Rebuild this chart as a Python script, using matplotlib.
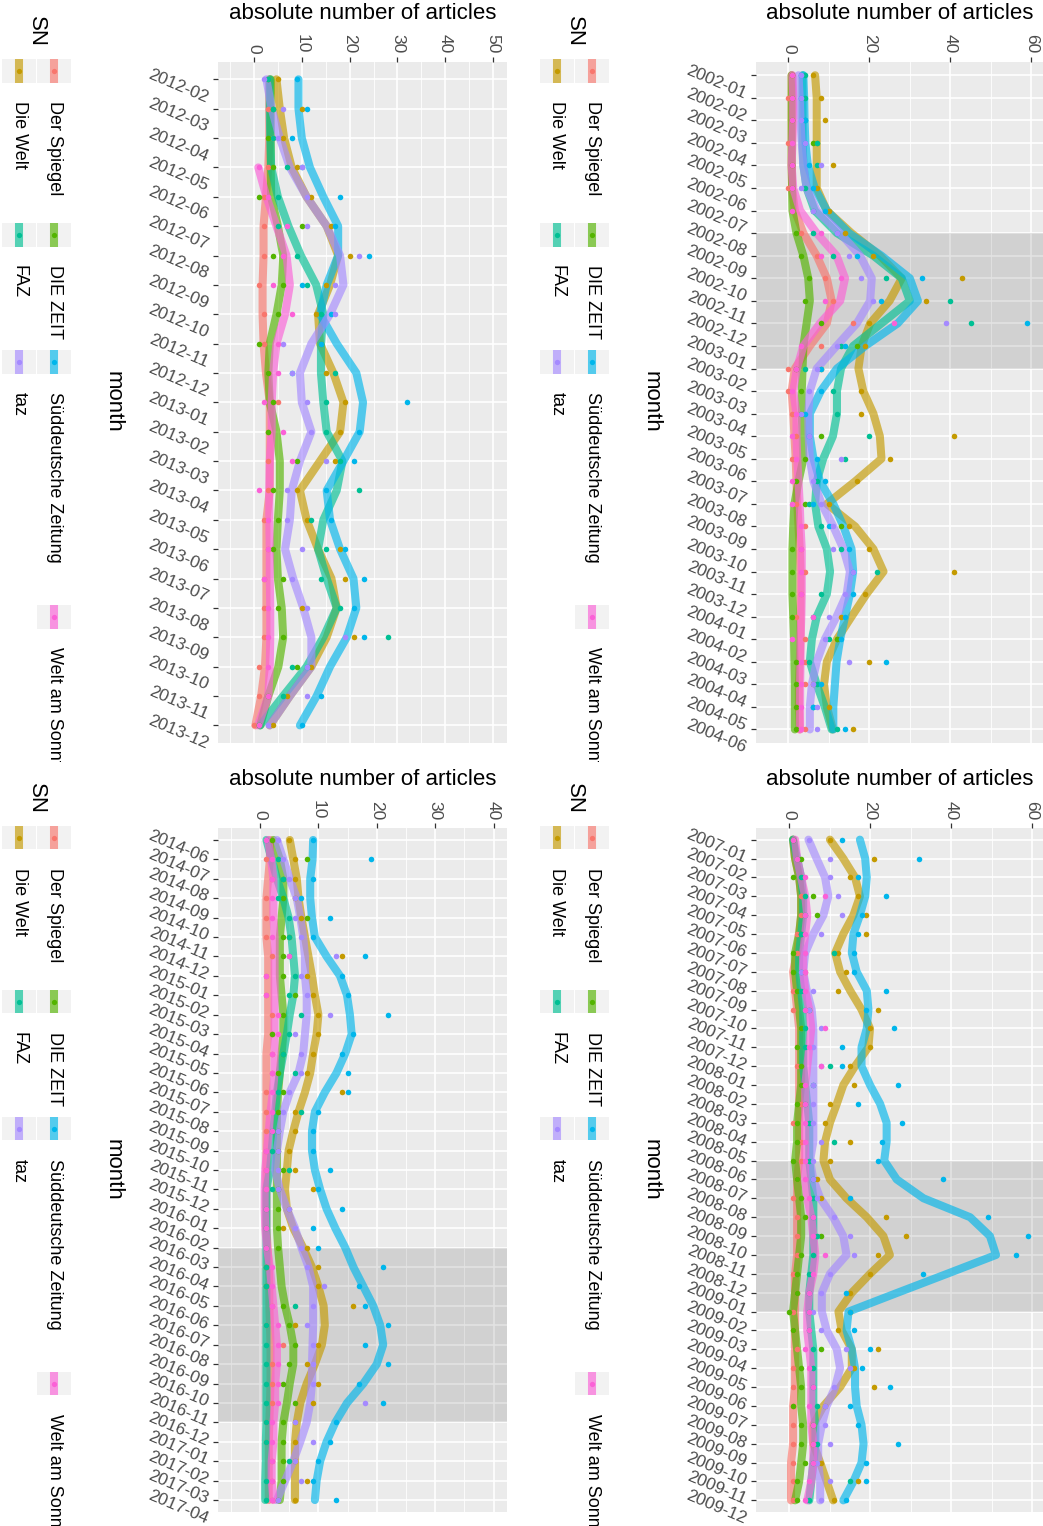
import numpy as np
import pandas as pd
import matplotlib
matplotlib.use("Agg")
import matplotlib.pyplot as plt
from matplotlib.transforms import ScaledTranslation, Bbox, TransformedBbox
from matplotlib.patches import Rectangle
from matplotlib.lines import Line2D

plt.rcParams["font.family"] = ["Liberation Sans", "DejaVu Sans"]

papers = ["Der Spiegel", "Die Welt", "DIE ZEIT", "FAZ",
          "Süddeutsche Zeitung", "taz", "Welt am Sonntag"]
colors = ["#F8766D", "#C49A00", "#53B400", "#00C094",
          "#00B6EB", "#A58AFF", "#FB61D7"]
nan = np.nan

# ---- 2002-01 .. 2004-06 (order of papers) ----
lines_2002 = [
    [0.8, 0.8, 0.8, 0.8, 0.8, 0.9, 1.6, 3.7, 7, 9.5, 10.7, 9.5, 5.3, 1.6, 0.8, 1.2, 1.5, 1.8, 2, 2.2, 2.5, 2.8, 3, 3, 3, 3, 2.8, 2.6, 2.6, 2.8],
    [6.6, 7, 7, 7, 7, 7, 9.5, 15.6, 22.6, 28, 25, 20.2, 18.1, 17.3, 18.5, 21, 22.6, 23, 16.5, 9.5, 16.5, 21, 23.5, 19.3, 15.6, 12, 9.5, 8.8, 9.5, 11],
    [0.8, 0.8, 0.8, 0.8, 0.8, 0.9, 1, 2, 3.7, 4.9, 5.3, 4.5, 3.7, 3.5, 3.3, 3.3, 3.5, 3.7, 2.5, 1.5, 1.2, 1, 1, 1, 1.2, 1.4, 1.5, 1.6, 1.6, 1.6],
    [3.5, 3.5, 3.5, 3.5, 3.7, 4.5, 6.5, 12, 21, 28, 30, 23, 16, 13, 12, 12, 11, 8.6, 7, 6.6, 7.4, 9.5, 10.3, 9.5, 7, 5.8, 5.3, 7, 9, 10.7],
    [3.7, 3.9, 4, 4.2, 4.8, 6.5, 9.5, 15, 23, 30, 32, 27, 19, 12, 8, 5.3, 5.3, 6.2, 7.8, 11.1, 13.6, 15.6, 16, 15.2, 14, 12.8, 11.9, 11.5, 11.1, 11.1],
    [2.5, 2.8, 3, 3.3, 3.7, 4.5, 7, 12.8, 17.7, 20.6, 20.2, 16.9, 11.9, 7, 5.3, 4.9, 5, 5.3, 6.2, 8.2, 11.1, 13.6, 15.2, 14.4, 11.9, 9, 7, 5.8, 5.3, 5.3],
    [1, 1.2, 1.2, 1, 0.8, 1.2, 2.9, 7, 11.9, 14, 12.8, 7.8, 3.7, 2.1, 1.2, 2, 2, 2.2, 2.5, 2.8, 3, 3.3, 3.3, 3.3, 3.2, 3, 3, 2.9, 2.9, 2.9],
]
points_2002 = [
    [1, 0, 1, 0, 1, 0, 1, 3, 7, 9, 11, 16, 8, 0, 0, 1, 2, 1, 2, 2, 4, 3, 4, 3, 2, 4, 4, 4, 2, 4],
    [6, 8, 9, 7, 11, 7, 10, 14, 21, 43, 34, 20, 19, 8, 18, 18, 41, 25, 17, 10, 15, 20, 41, 19, 13, 12, 20, 6, 10, 16],
    [1, 1, 1, 6, 1, 1, 1, 2, 3, 5, 4, 8, 17, 2, 3, 3, 8, 4, 2, 4, 13, 1, 1, 1, 1, 12, 2, 2, 2, 2],
    [4, 4, 4, 7, 7, 4, 6, 6, 11, 24, 40, 45, 13, 4, 11, 12, 20, 14, 7, 5, 8, 13, 22, 8, 6, 10, 5, 7, 6, 12],
    [3, 3, 4, 4, 5, 6, 9, 12, 17, 33, 23, 59, 14, 8, 8, 4, 5, 7, 9, 6, 10, 15, 16, 16, 14, 13, 24, 8, 6, 14],
    [3, 3, 3, 4, 8, 3, 6, 12, 15, 18, 21, 39, 12, 7, 5, 3, 5, 13, 6, 8, 11, 11, 16, 14, 10, 9, 15, 6, 7, 7],
    [1, 1, 1, 1, 1, 1, 1, 8, 8, 13, 9, 26, 3, 2, 1, 2, 1, 2, 1, 1, 3, 3, 3, 3, 6, 1, 3, 3, 3, 3],
]

# ---- 2007-01 .. 2009-12 ----
lines_2007 = [
    [1, 1.5, 2.5, 3, 3, 2.5, 2, 1, 1.5, 2, 2.5, 2.5, 2.5, 2.5, 2.5, 2.5, 2.5, 2.5, 2, 2, 2, 2, 2, 1.5, 1.5, 1.5, 1.5, 1.5, 1.5, 1.5, 1, 1, 1, 0.5, 0.5, 0.5],
    [10.1, 13.4, 16.3, 17.5, 15.9, 13.4, 11.4, 12.6, 15.1, 17.9, 20, 19.6, 16.3, 13.4, 11.8, 10.1, 8.9, 8.5, 10.1, 14.2, 19.2, 23.3, 24.9, 20, 15.5, 12.2, 13, 15.5, 15.5, 12.6, 8.5, 6, 6, 7.7, 9.3, 10.9],
    [1, 1.5, 2.5, 3, 3, 2.5, 1.5, 1.5, 2, 2.5, 3, 3, 3, 3, 2.5, 2, 2, 1.5, 2, 2.5, 3, 3, 2.5, 2, 1.5, 1, 1.5, 2, 2.5, 3, 3, 3.5, 3.5, 3, 2.5, 1.5],
    [1, 2, 3, 3.5, 3.5, 3, 2.5, 2.5, 3, 3.5, 3.5, 3.5, 3.5, 4, 4.5, 5, 5, 5, 5.5, 6, 6, 6, 6, 5.5, 5, 5, 5.5, 6, 6, 6, 6, 6.5, 6.5, 6, 5.5, 5],
    [17.5, 18.8, 19.2, 18.8, 17.5, 15.9, 15.5, 16.7, 19.2, 19.6, 19.2, 17.9, 17.9, 20, 22.5, 24.1, 24.1, 23.5, 26.6, 33.2, 44.7, 49.6, 51.1, 39, 26.8, 14.7, 14.2, 15.5, 16.3, 16.3, 16.7, 17.9, 18.4, 17.9, 15.9, 13.4],
    [4.8, 6.8, 8.9, 9.7, 8.5, 6, 4, 3.5, 4.4, 5.6, 6, 6, 6, 6, 6, 6, 6, 5.2, 6, 7.7, 10.9, 13.4, 14.2, 10.1, 8.1, 8.1, 9.3, 11.8, 12.6, 11.4, 9.3, 8.1, 7.2, 7.2, 7.7, 7.7],
    [1.5, 2, 3, 4, 4.5, 4, 3.5, 3.5, 4, 5, 5.5, 5, 4.5, 4, 4, 4, 4, 4, 4, 4.5, 5.5, 6, 6.5, 6, 5, 4.5, 4.5, 5, 5.5, 5.5, 5.5, 5.5, 6, 6, 5.5, 4.5],
]
points_2007 = [
    [1, 2, 3, 3, 3, 2, 2, 4, 1, 1, 3, 2, 2, 3, 3, 1, 3, 3, 2, 1, 2, 2, 2, 1, 2, 1, 1, 2, 1, 1, 1, 1, 1, 1, 1, 1],
    [10, 21, 15, 17, 19, 19, 12, 14, 12, 22, 20, 20, 15, 16, 10, 9, 15, 10, 7, 8, 24, 29, 22, 20, 15, 15, 12, 22, 16, 21, 9, 6, 6, 8, 17, 11],
    [1, 3, 1, 6, 7, 3, 1, 1, 2, 5, 3, 2, 3, 3, 2, 2, 2, 1, 2, 3, 4, 8, 3, 2, 2, 0, 1, 8, 3, 3, 1, 3, 3, 4, 2, 2],
    [1, 2, 3, 4, 4, 3, 11, 3, 3, 4, 4, 4, 10, 6, 4, 5, 11, 5, 6, 6, 6, 7, 6, 5, 5, 5, 5, 6, 6, 6, 7, 6, 7, 6, 15, 5],
    [13, 32, 17, 24, 18, 17, 16, 16, 24, 19, 26, 13, 13, 27, 17, 28, 23, 22, 38, 15, 49, 59, 56, 33, 14, 15, 16, 20, 18, 25, 15, 17, 27, 19, 19, 14],
    [5, 10, 10, 12, 13, 8, 4, 3, 6, 5, 8, 6, 8, 6, 6, 6, 8, 6, 6, 7, 11, 15, 16, 10, 8, 6, 8, 14, 15, 11, 9, 9, 10, 7, 10, 8],
    [1, 2, 4, 9, 4, 4, 4, 4, 4, 4, 9, 5, 8, 4, 4, 4, 4, 4, 4, 5, 6, 6, 9, 6, 5, 5, 5, 4, 5, 6, 5, 6, 6, 6, 5, 4],
]

# ---- 2012-02 .. 2013-12 ----
lines_2012 = [
    [3.2, 3.2, 3.2, 3, 2.5, 2, 2, 1.8, 1.8, 2, 2.5, 3.3, 3.3, 3.3, 3.3, 2.6, 2.6, 2.6, 2.6, 2.6, 2.3, 1.5, 0.3],
    [4.7, 5.4, 6.3, 7.9, 11, 15.2, 17.6, 15.9, 13.4, 13.8, 16.6, 18.7, 18, 13.8, 9.6, 11, 13.4, 16.2, 17.3, 15.2, 12, 7.5, 3.3],
    [3.5, 3.5, 3.5, 3.5, 3.6, 5, 6.1, 5.8, 4.7, 3.3, 3, 3.3, 4.7, 5.4, 5.4, 5, 4.7, 5, 5.8, 6.1, 5.1, 3, 1.3],
    [3.3, 3.3, 3.4, 3.6, 5, 7.2, 9.8, 13, 14.5, 14, 14, 14.5, 15.2, 18.5, 17.3, 14.5, 13.4, 15.2, 17.3, 14.5, 11, 6.1, 1.3],
    [9.3, 9.3, 10, 11.7, 14.5, 17.6, 17.6, 15.2, 13.8, 17.3, 21.4, 22.8, 22.1, 18.7, 15.2, 15.9, 18, 20.8, 21.4, 19.4, 15.9, 13.1, 9.6],
    [2.6, 3.7, 5.4, 7.5, 11, 15.2, 18, 18.7, 15.9, 12, 9.6, 10, 12, 9.6, 7.9, 7.5, 6.5, 8.2, 10.3, 12, 12, 7.5, 3.3],
    [nan, nan, nan, 0.9, 2.6, 4.7, 6.8, 7.5, 6.5, 4.7, 4, 3.7, 3.7, 3.3, 3.2, 3.2, 3.3, 3.3, 3.4, 3.4, 3.3, 3, 0.9],
]
points_2012 = [
    [3, 3, 4, 3, 2, 2, 2, 1, 2, 2, 3, 5, 3, 3, 3, 2, 3, 2, 2, 2, 1, 1, 0],
    [5, 10, 6, 9, 12, 16, 20, 15, 13, 14, 15, 19, 18, 17, 9, 11, 18, 19, 10, 21, 12, 7, 4],
    [3, 4, 3, 4, 1, 10, 4, 6, 5, 1, 3, 4, 3, 9, 4, 5, 4, 6, 5, 6, 9, 3, 1],
    [3, 4, 4, 7, 5, 5, 9, 11, 14, 14, 17, 15, 15, 18, 22, 12, 15, 14, 18, 28, 8, 6, 1],
    [9, 11, 8, 10, 18, 17, 24, 10, 16, 14, 8, 32, 22, 21, 15, 16, 19, 23, 21, 23, 11, 14, 10],
    [2, 6, 5, 10, 11, 11, 22, 17, 17, 6, 8, 11, 12, 15, 7, 7, 10, 8, 11, 19, 11, 11, 3],
    [nan, nan, nan, 1, 3, 7, 6, 4, 8, 5, 5, 2, 6, 8, 1, 3, 3, 2, 3, 3, 3, 3, 1],
]

# ---- 2014-06 .. 2017-04 ----
lines_2014 = [
    [1.7, 1.7, 1.4, 1.1, 1.1, 1.1, 1.4, 1.4, 1.4, 1.4, 1.4, 1.1, 1.1, 1.1, 1.1, 1.1, 1.1, 1.1, 1.1, 1.1, 1.1, 1.3, 1.5, 1.6, 1.6, 1.7, 1.8, 1.8, 1.8, 1.7, 1.6, 1.5, 1.5, 1.5, 1.5],
    [5.1, 5.7, 6.3, 6.6, 7.1, 7.7, 8.3, 8.9, 9.4, 10, 9.7, 9.1, 8.6, 7.7, 6.6, 5.7, 4.9, 4.6, 4.3, 4.6, 5.7, 7.4, 8.9, 10, 10.9, 11.1, 10.6, 9.4, 8, 6.9, 6.3, 6, 6, 6, 6],
    [2.3, 3.4, 4, 4, 3.7, 3.4, 3.4, 3.4, 3.7, 4, 4, 3.7, 3.4, 3.1, 2.9, 2.9, 2.9, 2.9, 2.9, 2.9, 2.9, 3.1, 3.4, 3.7, 4.3, 5.1, 5.7, 5.7, 5.1, 4.6, 4, 3.7, 3.7, 3.7, 3.4],
    [1.1, 2, 2.9, 4, 4.9, 5.4, 5.7, 6, 5.7, 5.1, 4.6, 4, 3.4, 2.9, 2.6, 2.3, 2, 1.7, 1.1, 1.1, 1.1, 1.1, 1.1, 1.1, 1.1, 1.1, 1.1, 1.1, 1.1, 1.1, 1.1, 1, 1, 0.9, 0.9],
    [9.1, 9, 8.6, 8.6, 8.9, 9.4, 11.4, 13.7, 14.9, 15.4, 15.7, 14.6, 13.1, 11.1, 9.4, 8.9, 8.9, 9.4, 10.3, 11.4, 12.9, 14.6, 16, 17.7, 19.4, 20.6, 21.1, 20, 17.7, 14.9, 12.9, 11.4, 10.3, 9.7, 9.4],
    [2.9, 4, 5.1, 6.3, 6.9, 7.4, 7.7, 7.7, 8, 8, 7.7, 7.4, 6.6, 5.1, 4, 3.4, 2.9, 2.6, 3.4, 4.6, 6, 7.1, 8.3, 9.1, 9.1, 9.1, 9, 8.9, 8.9, 8.6, 8, 6.9, 5.7, 4.3, 2.9],
    [1.4, 1.9, 2.3, 2.3, 2.3, 2.5, 2.5, 2.5, 2.5, 2.5, 2.5, 2.5, 2.5, 2.2, 1.8, 1.5, 1.2, 0.9, 0.8, 0.8, 0.9, 1.2, 1.7, 2, 2.3, 2.6, 2.9, 2.9, 2.6, 2.6, 2.3, 2.3, 2, 2, 2.3],
]
points_2014 = [
    [2, 1, 2, 1, 1, 1, 2, 1, 1, 2, 2, 2, 2, 1, 1, 1, 1, 1, 1, 1, 1, 1, 1, 1, 2, 1, 4, 2, 2, 2, 1, 1, 2, 2, 2],
    [5, 6, 6, 6, 7, 5, 14, 8, 9, 10, 10, 9, 8, 14, 6, 6, 5, 6, 9, 5, 4, 8, 10, 10, 16, 6, 10, 8, 10, 9, 6, 6, 6, 8, 6],
    [2, 8, 4, 4, 8, 4, 4, 4, 6, 4, 2, 4, 3, 4, 3, 3, 3, 4, 3, 3, 3, 3, 1, 1, 4, 5, 6, 5, 4, 6, 4, 4, 4, 4, 3],
    [1, 3, 4, 3, 5, 5, 5, 6, 5, 7, 5, 4, 6, 3, 7, 2, 2, 5, 2, 1, 1, 1, 1, 1, 6, 1, 1, 1, 1, 1, 1, 1, 5, 1, 1],
    [9, 19, 9, 7, 12, 9, 18, 14, 15, 22, 16, 14, 15, 15, 10, 9, 9, 12, 10, 14, 9, 10, 21, 17, 18, 22, 18, 22, 17, 21, 13, 12, 10, 9, 13],
    [3, 4, 5, 6, 6, 7, 13, 7, 8, 12, 6, 7, 7, 5, 4, 3, 3, 3, 3, 5, 6, 7, 8, 11, 9, 8, 9, 9, 9, 18, 6, 9, 6, 7, 3],
    [1, 2, 2, 2, 2, 2, 5, 1, 1, 3, 3, 2, 2, 2, 2, 2, 1, 1, 1, 1, 1, 1, 2, 2, 2, 3, 3, 3, 3, 3, 2, 2, 2, 2, 2],
]

W, H = 1043, 1526
fig = plt.figure(figsize=(W / 100, H / 100), dpi=100)


def fx(x):
    return x / W


def fy(y):
    return 1 - y / H


def draw_panel(box, start, lines, points, xlim, major, minor, shade):
    l, r, t, b = box
    ax = fig.add_axes([fx(l), fy(b), (r - l) / W, (b - t) / H])
    n = len(lines[0])
    months = pd.period_range(start=start, periods=n, freq="M").strftime("%Y-%m").tolist()
    y = np.arange(n)

    ax.set_facecolor("#EBEBEB")
    ax.set_xlim(*xlim)
    ax.set_ylim(n - 1 + 0.6, -0.6)
    ax.set_xticks(major)
    ax.set_xticks(minor, minor=True)
    ax.set_yticks(y)
    ax.set_yticklabels([])
    ax.grid(which="major", color="white", lw=1.2)
    ax.grid(which="minor", axis="x", color="white", lw=0.6)
    ax.set_axisbelow(True)
    for s in ax.spines.values():
        s.set_visible(False)
    ax.xaxis.tick_top()
    ax.tick_params(axis="x", which="major", length=3.6, width=0.9, color="#333333",
                   pad=2.5, labelsize=12.5, labelcolor="#4D4D4D", labelrotation=-90)
    ax.tick_params(axis="x", which="minor", length=0)
    ax.tick_params(axis="y", length=3.6, width=0.9, color="#333333")

    # slanted month labels
    trans = ax.get_yaxis_transform() + ScaledTranslation(-0.08, -0.07, fig.dpi_scale_trans)
    for i, m in enumerate(months):
        ax.text(0, i, m, transform=trans, rotation=-23, ha="right", va="center",
                fontsize=12.5, color="#4D4D4D", clip_on=False)

    if shade is not None:
        ax.axhspan(shade[0], shade[1], color="black", alpha=0.11, lw=0, zorder=1)

    for vals, c in zip(lines, colors):
        ax.plot(vals, y, color=c, lw=5.8, alpha=0.65, solid_capstyle="round",
                solid_joinstyle="round", zorder=2)
    for vals, c in zip(points, colors):
        ax.scatter(vals, y, s=16, color=c, lw=0, zorder=3)

    cx = (l + r) / 2
    cy = (t + b) / 2
    fig.text(fx(cx), fy(t - 48.5), "absolute number of articles", ha="center", va="center",
             fontsize=16, color="black")
    fig.text(fx(l - 105), fy(cy), "month", ha="center", va="center", rotation=-90,
             fontsize=16, color="black")
    return ax


def draw_legend(row1_x, yoff, clip_bottom):
    clip = TransformedBbox(Bbox([[0, fy(clip_bottom)], [1, fy(yoff)]]), fig.transFigure)
    fig.text(fx(row1_x - 17.5), fy(yoff + 31.5), "SN", rotation=-90, ha="center", va="center",
             fontsize=16, color="black")
    col_centers = [71, 235, 362, 617]
    # (column, row, paper index)
    entries = [(0, 0, 0), (0, 1, 1), (1, 0, 2), (1, 1, 3), (2, 0, 4), (2, 1, 5), (3, 0, 6)]
    for col, row, k in entries:
        x = row1_x - 35 * row
        c = col_centers[col] + yoff
        fig.add_artist(Rectangle((fx(x - 16.8), fy(c + 11.7)), 33.6 / W, 23.4 / H,
                                 transform=fig.transFigure, facecolor="#F2F2F2", lw=0))
        fig.add_artist(Line2D([fx(x), fx(x)], [fy(c - 11.7), fy(c + 11.7)],
                              transform=fig.transFigure, lw=5.8, color=colors[k], alpha=0.65,
                              solid_capstyle="butt"))
        fig.add_artist(Line2D([fx(x)], [fy(c)], transform=fig.transFigure, marker="o",
                              ms=3.8, mew=0, color=colors[k], ls="none"))
        t = fig.text(fx(x), fy(c + 30), papers[k], rotation=-90, ha="center", va="top",
                     fontsize=13, color="black")
        t.set_clip_on(True)
        t.set_clip_box(clip)


panels = [
    dict(box=(756, 1043, 61.7, 743), start="2002-01", lines=lines_2002, points=points_2002,
         xlim=(-8.0, 62.9), major=[0, 20, 40, 60], minor=[10, 30, 50], shade=(7, 13)),
    dict(box=(218.3, 507, 61.7, 743), start="2012-02", lines=lines_2012, points=points_2012,
         xlim=(-7.46, 52.9), major=[0, 10, 20, 30, 40, 50], minor=[-5, 5, 15, 25, 35, 45], shade=None),
    dict(box=(756, 1043, 828.3, 1511.7), start="2007-01", lines=lines_2007, points=points_2007,
         xlim=(-8.15, 62.7), major=[0, 20, 40, 60], minor=[10, 30, 50], shade=(17, 25)),
    dict(box=(218.3, 507, 828.3, 1511.7), start="2014-06", lines=lines_2014, points=points_2014,
         xlim=(-7.14, 42.3), major=[0, 10, 20, 30, 40], minor=[-5, 5, 15, 25, 35], shade=(21, 30)),
]
for p in panels:
    draw_panel(**p)

draw_legend(592, 0, 762)
draw_legend(54, 0, 762)
draw_legend(592, 766.6, 1526)
draw_legend(54, 766.6, 1526)

fig.savefig("out.png", dpi=100)
